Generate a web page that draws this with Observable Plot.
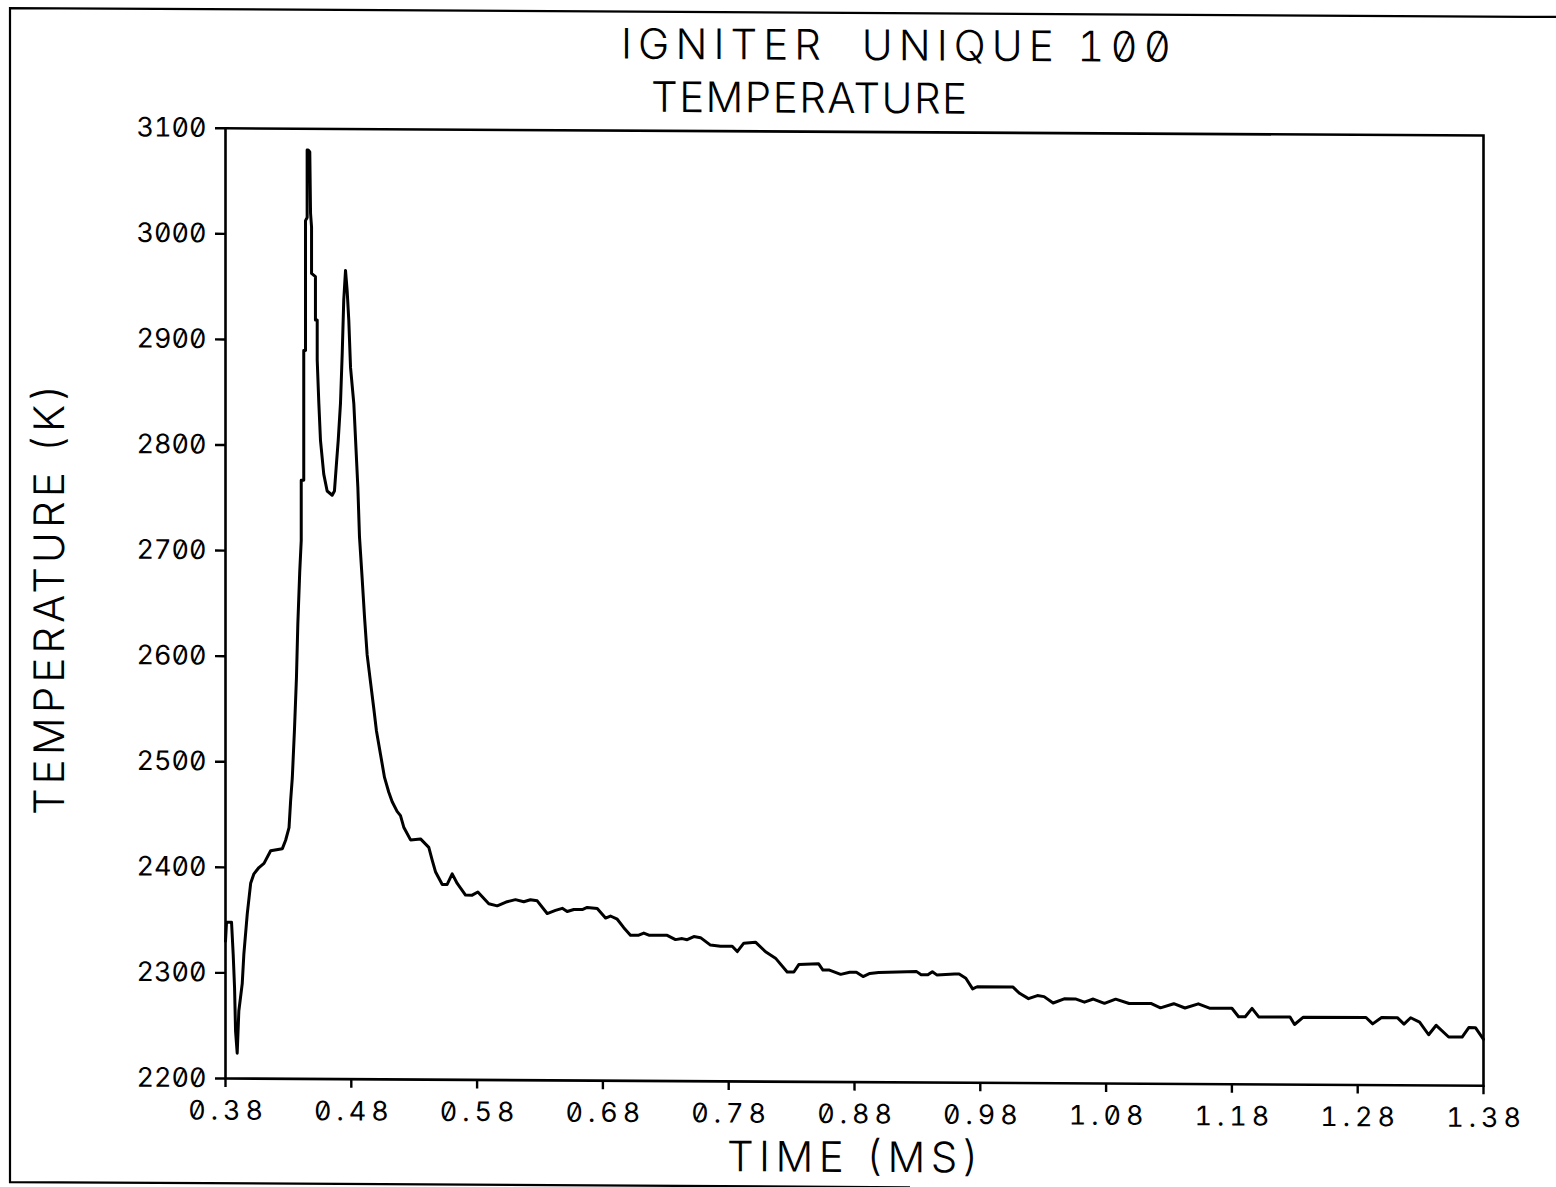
<!DOCTYPE html>
<html>
<head>
<meta charset="utf-8">
<script src="https://cdn.jsdelivr.net/npm/d3@7"></script>
<script src="https://cdn.jsdelivr.net/npm/@observablehq/plot@0.6"></script>
<style>
  html, body { margin: 0; padding: 0; background: #fff; }
  #chart { position: relative; width: 1556px; height: 1187px; overflow: hidden; background: #fff; }
  /* plotter sheet is drawn with a very slight vertical shear */
  #chart svg { transform: skewY(0.33deg); transform-origin: 0 0; }
  #chart svg text { font-feature-settings: "zero" 1, "tnum" 1; }
</style>
</head>
<body>
<div id="chart"></div>
<script>
// Igniter "Unique 100" temperature trace, time in ms, temperature in K
const time = [
  0.3800, 0.3808, 0.3848, 0.3861, 0.3872, 0.3880, 0.3893, 0.3906, 0.3933, 0.3946,
  0.3973, 0.4000, 0.4026, 0.4066, 0.4106, 0.4159, 0.4252, 0.4278, 0.4305, 0.4318,
  0.4331, 0.4348, 0.4364, 0.4375, 0.4390, 0.4402, 0.4402, 0.4422, 0.4422, 0.4436,
  0.4436, 0.4449, 0.4449, 0.4457, 0.4470, 0.4476, 0.4484, 0.4484, 0.4515, 0.4515,
  0.4529, 0.4529, 0.4542, 0.4555, 0.4581, 0.4608, 0.4648, 0.4666, 0.4682, 0.4696,
  0.4714, 0.4728, 0.4740, 0.4754, 0.4767, 0.4780, 0.4794, 0.4820, 0.4839, 0.4852,
  0.4865, 0.4886, 0.4905, 0.4926, 0.4952, 0.4979, 0.5000, 0.5032, 0.5064, 0.5098,
  0.5125, 0.5164, 0.5191, 0.5217, 0.5271, 0.5350, 0.5416, 0.5443, 0.5469, 0.5523,
  0.5562, 0.5602, 0.5642, 0.5708, 0.5761, 0.5806, 0.5893, 0.5960, 0.6039, 0.6105,
  0.6171, 0.6224, 0.6278, 0.6357, 0.6423, 0.6477, 0.6516, 0.6569, 0.6636, 0.6675,
  0.6755, 0.6821, 0.6860, 0.6914, 0.6966, 0.7019, 0.7085, 0.7125, 0.7165, 0.7311,
  0.7377, 0.7430, 0.7470, 0.7523, 0.7576, 0.7655, 0.7735, 0.7828, 0.7868, 0.7920,
  0.8013, 0.8093, 0.8172, 0.8265, 0.8318, 0.8357, 0.8514, 0.8549, 0.8601, 0.8690,
  0.8762, 0.8815, 0.8868, 0.8922, 0.8992, 0.9294, 0.9330, 0.9383, 0.9419, 0.9454,
  0.9596, 0.9632, 0.9685, 0.9739, 0.9775, 1.0058, 1.0112, 1.0183, 1.0254, 1.0307,
  1.0379, 1.0467, 1.0556, 1.0628, 1.0698, 1.0787, 1.0876, 1.0983, 1.1160, 1.1232,
  1.1338, 1.1427, 1.1533, 1.1622, 1.1800, 1.1853, 1.1906, 1.1960, 1.2013, 1.2262,
  1.2298, 1.2368, 1.2866, 1.2919, 1.2990, 1.3115, 1.3168, 1.3221, 1.3292, 1.3364,
  1.3424, 1.3523, 1.3630, 1.3683, 1.3736, 1.3800
];
const temperature = [
  2330, 2348, 2348, 2318, 2286, 2245, 2224, 2264, 2290, 2318,
  2356, 2385, 2394, 2400, 2404, 2416, 2418, 2426, 2438, 2464,
  2485, 2530, 2580, 2631, 2680, 2710, 2767, 2767, 2890, 2890,
  3013, 3016, 3080, 3080, 3078, 3020, 3007, 2963, 2960, 2919,
  2919, 2881, 2840, 2805, 2773, 2757, 2753, 2757, 2783, 2805,
  2840, 2888, 2938, 2966, 2947, 2919, 2874, 2840, 2793, 2761,
  2714, 2675, 2638, 2602, 2577, 2551, 2530, 2508, 2486, 2472,
  2463, 2454, 2450, 2439, 2427, 2428, 2420, 2408, 2397, 2385,
  2385, 2395, 2386, 2375, 2375, 2378, 2367, 2365, 2369, 2371,
  2369, 2371, 2370, 2358, 2361, 2363, 2360, 2362, 2362, 2364,
  2363, 2354, 2356, 2353, 2345, 2338, 2338, 2340, 2338, 2338,
  2334, 2335, 2334, 2337, 2336, 2329, 2328, 2328, 2323, 2331,
  2332, 2323, 2317, 2304, 2304, 2311, 2312, 2306, 2306, 2302,
  2304, 2304, 2300, 2303, 2304, 2305, 2302, 2302, 2305, 2302,
  2303, 2303, 2299, 2289, 2291, 2291, 2285, 2280, 2283, 2282,
  2276, 2280, 2280, 2277, 2280, 2276, 2280, 2276, 2276, 2272,
  2276, 2272, 2276, 2272, 2272, 2264, 2264, 2272, 2264, 2264,
  2257, 2264, 2264, 2258, 2264, 2264, 2258, 2264, 2260, 2248,
  2257, 2246, 2246, 2255, 2255, 2244
];

const xTicks = [0.38, 0.48, 0.58, 0.68, 0.78, 0.88, 0.98, 1.08, 1.18, 1.28, 1.38];
const yTicks = [2200, 2300, 2400, 2500, 2600, 2700, 2800, 2900, 3000, 3100];
const titleLines = ["IGNITER  UNIQUE 100", "TEMPERATURE"];
const xTitle = "TIME (MS)";
const yTitle = "TEMPERATURE (K)";

const trace = time.map((t, i) => ({time: t, temperature: temperature[i]}));

const chart = Plot.plot({
  width: 1556,
  height: 1187,
  marginLeft: 225,
  marginRight: 73,
  marginTop: 126.5,
  marginBottom: 110.3,
  style: {fontFamily: "Inter", fontSize: "27px", color: "#000", background: "#fff", overflow: "visible"},
  x: {domain: [0.38, 1.38], label: null},
  y: {domain: [2200, 3100], label: null},
  marks: [
    Plot.frame({stroke: "#000", strokeWidth: 2.6}),
    Plot.axisX({ticks: xTicks, tickFormat: d3.format(".2f"), tickSize: 9, tickPadding: 13,
                strokeWidth: 2.4, label: null}),
    Plot.axisY({ticks: yTicks, tickFormat: d3.format("d"), tickSize: 10, tickPadding: 9,
                strokeWidth: 2.4, label: null}),
    Plot.line(trace, {x: "time", y: "temperature", stroke: "#000", strokeWidth: 3,
                      strokeLinejoin: "round", strokeLinecap: "round"})
  ]
});

document.getElementById("chart").appendChild(chart);

const svg = d3.select(chart);

// wider plotter-style spacing for the time labels
svg.selectAll('g[aria-label="x-axis tick label"] text')
  .style("letter-spacing", "5px")
  .attr("dx", "2.5");

// sheet border
svg.append("path")
  .attr("d", "M910,1182 H10 V8 H1600")
  .attr("fill", "none")
  .attr("stroke", "#000")
  .attr("stroke-width", 2.2);

// titles
const titles = svg.append("g")
  .attr("fill", "#000")
  .attr("text-anchor", "start")
  .attr("font-size", 42)
  .style("font-family", "Inter")
  .style("font-weight", 300)
  .style("white-space", "pre");

titles.append("text")
  .attr("x", 621).attr("y", 55)
  .attr("textLength", 550).attr("lengthAdjust", "spacing")
  .text(titleLines[0]);

titles.append("text")
  .attr("x", 651).attr("y", 108)
  .attr("textLength", 316).attr("lengthAdjust", "spacing")
  .text(titleLines[1]);

titles.append("text")
  .attr("x", 727).attr("y", 1167)
  .attr("textLength", 252).attr("lengthAdjust", "spacing")
  .text(xTitle);

titles.append("text")
  .attr("transform", "translate(64,815) rotate(-90)")
  .attr("textLength", 431).attr("lengthAdjust", "spacing")
  .text(yTitle);
</script>
</body>
</html>
